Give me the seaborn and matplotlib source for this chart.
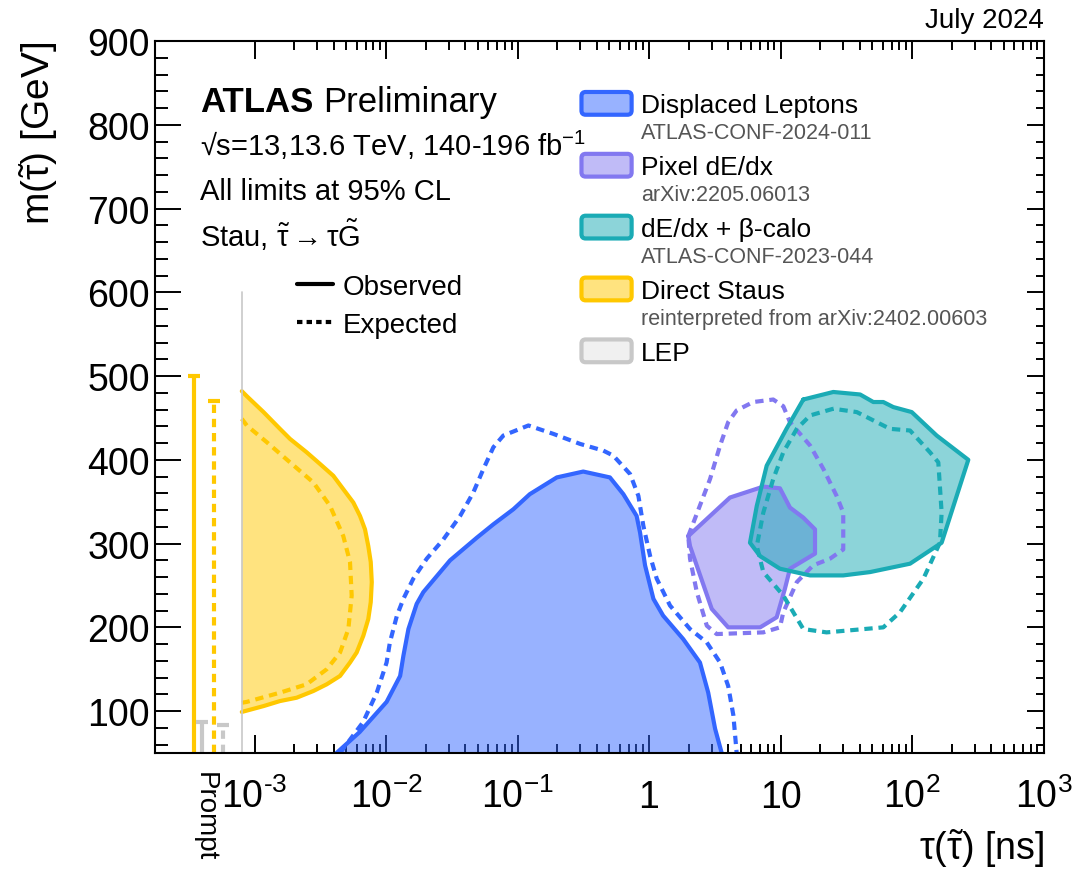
import seaborn as sns
import matplotlib.pyplot as plt
import numpy as np
from matplotlib.ticker import FixedLocator, FixedFormatter, MultipleLocator, NullFormatter
from matplotlib.patches import Patch, FancyBboxPatch
from matplotlib.legend_handler import HandlerPatch
from matplotlib.lines import Line2D
from matplotlib.colors import to_rgba

sns.set_theme(style='ticks', rc={'axes.edgecolor': 'black', 'text.color': 'black',
                                 'axes.labelcolor': 'black', 'xtick.color': 'black',
                                 'ytick.color': 'black'})
plt.rcParams['font.family'] = ['Liberation Sans', 'DejaVu Sans']
plt.rcParams['mathtext.fontset'] = 'custom'
plt.rcParams['mathtext.rm'] = 'Liberation Sans'
plt.rcParams['mathtext.it'] = 'Liberation Sans:italic'
plt.rcParams['mathtext.bf'] = 'Liberation Sans:bold'

# ---- data (lifetime in ns, stau mass in GeV) ----
# Displaced leptons
dl_obs_tau = [4.2e-3, 6.3e-3, 0.0101, 0.0128, 0.01355, 0.0148, 0.0171, 0.0192, 0.0307, 0.049,
              0.0655, 0.093, 0.124, 0.199, 0.316, 0.504, 0.638, 0.805, 0.855, 0.933,
              1.08, 1.28, 1.82, 2.44, 2.82, 3.18, 3.57]
dl_obs_m = [50, 75, 111, 142, 166, 198, 228, 242, 280, 307,
            323, 341, 359, 379, 386, 379, 359, 333, 313, 274,
            234, 214, 186, 158, 122, 79, 50]
dl_exp_tau = [4.47e-3, 6.7e-3, 8.5e-3, 0.0101, 0.0107, 0.0121, 0.01355, 0.0161, 0.0204, 0.0273,
              0.0366, 0.0461, 0.055, 0.0655, 0.078, 0.121, 0.187, 0.299, 0.449, 0.535,
              0.718, 0.83, 0.906, 1.02, 1.145, 1.445, 2.05, 2.75, 3.47, 4.0,
              4.38, 4.64]
dl_exp_m = [50, 87, 122, 158, 182, 214, 234, 258, 282, 305,
            333, 361, 389, 415, 429, 441, 431, 419, 411, 405,
            383, 357, 321, 285, 258, 226, 198, 182, 158, 130,
            95, 50]

# Pixel dE/dx
px_obs_tau = [1.99, 4.13, 7.4, 9.9, 11.8, 14.9, 18.3, 18.3, 11.8, 10.8, 9.35, 7.0, 4.0, 3.0, 2.05]
px_obs_m = [309, 355, 368, 366, 343, 331, 317, 288, 270, 246, 212, 200, 200, 222, 297]
px_exp_tau = [1.99, 2.91, 3.47, 4.0, 4.64, 6.2, 8.8, 10.5, 11.8, 16.8, 21.2, 26.7,
              30, 30, 23.8, 17.7, 13.3, 10.5, 9.9, 7.4, 3.27, 2.75, 2.31, 2.05]
px_exp_m = [309, 377, 417, 445, 459, 469, 472, 464, 445, 417, 389, 357,
            337, 293, 282, 274, 254, 218, 200, 194, 192, 202, 242, 282]

# dE/dx + beta-calo
bc_obs_tau = [14.9, 25.2, 40.3, 50.8, 60.5, 72, 99.5, 154, 268, 168,
              96.6, 48, 30, 16.8, 9.9, 7.0, 5.86, 6.6, 7.85, 11.1]
bc_obs_m = [472, 481, 478, 469, 469, 463, 457, 429, 400, 301,
            276, 266, 262, 262, 270, 285, 301, 345, 393, 437]
bc_exp_tau = [25.2, 16.8, 13.3, 10.5, 8.8, 7.4, 6.6, 7.4, 10.5, 14.9, 22.4,
              60.5, 81, 122, 163, 168, 158.5, 137, 96.6, 68, 48, 38]
bc_exp_m = [461, 453, 437, 409, 377, 337, 297, 266, 238, 198, 194,
            200, 218, 258, 301, 337, 397, 409, 435, 437, 449, 457]

# Direct staus (reinterpreted)
ds_obs_tau = [8.0e-4, 8.73e-4, 1.17e-3, 1.56e-3, 1.86e-3, 2.49e-3, 3.15e-3, 3.97e-3, 4.73e-3,
              5.64e-3, 6.34e-3, 6.92e-3, 7.33e-3, 7.65e-3, 7.79e-3, 7.65e-3, 7.33e-3, 6.72e-3,
              5.98e-3, 5.32e-3, 4.47e-3, 3.54e-3, 2.80e-3, 2.09e-3, 1.56e-3, 1.17e-3, 8.0e-4]
ds_obs_m = [482, 476, 457, 437, 425, 409, 395, 381, 365,
            349, 333, 317, 297, 278, 254, 230, 210, 190,
            170, 158, 142, 132, 124, 116, 112, 106, 99]
ds_exp_tau = [8.0e-4, 8.73e-4, 1.24e-3, 1.86e-3, 2.80e-3, 3.75e-3, 4.73e-3, 5.32e-3,
              5.48e-3, 5.17e-3, 4.47e-3, 3.54e-3, 2.49e-3, 1.56e-3, 8.73e-4, 8.0e-4]
ds_exp_m = [449, 441, 421, 397, 373, 345, 309, 278, 238, 198, 170, 150, 132, 122, 111, 110]

# prompt limits: direct staus obs/exp, LEP obs/exp
prompt_tau = [3.47e-4, 4.94e-4, 3.97e-4, 5.73e-4]
prompt_limit = [500, 470, 87, 84]
prompt_edge_tau = 8.0e-4
prompt_edge_top = 600

analyses = ['Displaced Leptons', 'Pixel dE/dx', 'dE/dx + β-calo', 'Direct Staus', 'LEP']
references = ['ATLAS-CONF-2024-011', 'arXiv:2205.06013', 'ATLAS-CONF-2023-044',
              'reinterpreted from arXiv:2402.00603']

x_major = [1e-3, 1e-2, 1e-1, 1, 10, 1e2, 1e3]
x_major_labels = ['$10^{\u20103}$', '$10^{-2}$', '$10^{-1}$', '1', '10', '$10^{2}$', '$10^{3}$']

# ---- colours ----
blue = '#3366ff'
purple = '#8278f0'
teal = '#1aabb5'
yellow = '#ffc800'
lep_edge = '#c8c8c8'
lep_fill = '#f0f0f0'
dots = (0, (2, 1.4))

fig = plt.figure(figsize=(10.76, 8.7), dpi=100)
ax = fig.add_axes([155 / 1076, 116 / 870, 888.5 / 1076, 712 / 870])
ax.set_xscale('log')
ax.set_xlim(10 ** -3.757, 1e3)
ax.set_ylim(50, 900)


def contour(tau, m, color, ls='-', closed=False):
    if closed:
        tau = list(tau) + [tau[0]]
        m = list(m) + [m[0]]
    sns.lineplot(x=tau, y=m, sort=False, estimator=None, color=color, lw=3,
                 linestyle=ls, ax=ax, legend=False)


# displaced leptons
ax.fill(dl_obs_tau, dl_obs_m, color=blue, alpha=0.5, lw=0)
contour(dl_obs_tau, dl_obs_m, blue)
contour(dl_exp_tau, dl_exp_m, blue, dots)

# direct staus
ax.fill(ds_obs_tau, ds_obs_m, color=yellow, alpha=0.5, lw=0)
contour(ds_obs_tau, ds_obs_m, yellow)
contour(ds_exp_tau, ds_exp_m, yellow, dots)

# pixel dE/dx
ax.fill(px_obs_tau, px_obs_m, color=purple, alpha=0.5, lw=0)
contour(px_obs_tau, px_obs_m, purple, closed=True)
contour(px_exp_tau, px_exp_m, purple, dots, closed=True)

# dE/dx + beta-calo
ax.fill(bc_obs_tau, bc_obs_m, color=teal, alpha=0.5, lw=0)
contour(bc_obs_tau, bc_obs_m, teal, closed=True)
contour(bc_exp_tau, bc_exp_m, teal, dots, closed=True)

# prompt region
prompt_colors = [yellow, yellow, lep_edge, lep_edge]
prompt_styles = ['-', dots, '-', dots]
ymin = ax.get_ylim()[0]
for t, lim, c, ls in zip(prompt_tau, prompt_limit, prompt_colors, prompt_styles):
    ax.plot([t, t], [ymin, lim], color=c, lw=3, linestyle=ls, solid_capstyle='butt')
    ax.plot([t], [lim], marker='_', ms=8, mew=3, color=c)
ax.plot([prompt_edge_tau, prompt_edge_tau], [ymin, prompt_edge_top], color=lep_edge, lw=1.2)

# ---- axes styling ----
for s in ax.spines.values():
    s.set_linewidth(1.5)
    s.set_color('black')

ax.xaxis.set_major_locator(FixedLocator(x_major))
ax.xaxis.set_major_formatter(FixedFormatter(x_major_labels))
ax.xaxis.set_minor_locator(FixedLocator([k * 10.0 ** n for n in range(-3, 3) for k in range(2, 10)]))
ax.xaxis.set_minor_formatter(NullFormatter())
ax.yaxis.set_major_locator(MultipleLocator(100))
ax.yaxis.set_minor_locator(MultipleLocator(20))

ax.tick_params(which='both', direction='in', top=True, right=True, width=1.4, colors='black')
ax.tick_params(axis='x', which='major', length=13, pad=39, labelsize=27)
ax.tick_params(axis='x', which='minor', length=6.5)
ax.tick_params(axis='y', which='major', length=18.7, pad=3.6, labelsize=27)
ax.tick_params(axis='y', which='minor', length=9.4)
for lab in ax.get_xticklabels():
    lab.set_va('baseline')
for t in ax.yaxis.get_major_ticks():
    t.tick2line.set_markersize(12)
for t in ax.yaxis.get_minor_ticks():
    t.tick2line.set_markersize(6)

ax.set_xlabel(r'$\mathrm{\tau}$($\mathrm{\tilde{\tau}}$) [ns]', fontsize=27, loc='right')
ax.xaxis.set_label_coords(1.0, -0.1489)
ax.xaxis.label.set_va('baseline')
ax.set_ylabel(r'm($\mathrm{\tilde{\tau}}$) [GeV]', fontsize=28, loc='top')
ax.yaxis.set_label_coords(-0.107, 1.0)

# ---- text ----
atlas = ax.text(0.0506, 0.9157, 'ATLAS', transform=ax.transAxes, fontsize=25,
                fontweight='bold', va='center', ha='left')
ax.annotate('Preliminary', xy=(1, 0), xycoords=atlas, xytext=(7, 0),
            textcoords='offset points', fontsize=25, va='bottom', ha='left')
ax.text(0.0506, 0.8553, '√s=13,13.6 TeV, 140-196 fb$^{-1}$', transform=ax.transAxes,
        fontsize=21, va='center')
ax.text(0.0506, 0.7893, 'All limits at 95% CL', transform=ax.transAxes, fontsize=21, va='center')
ax.text(0.0506, 0.7289, r'Stau, $\mathrm{\tilde{\tau}}\rightarrow\mathrm{\tau\tilde{G}}$',
        transform=ax.transAxes, fontsize=21, va='center')
ax.text(1.0, 1.0197, 'July 2024', transform=ax.transAxes, fontsize=20, ha='right', va='baseline')
ax.text(0.0563, -0.0253, 'Prompt', transform=ax.transAxes, fontsize=20, rotation=-90,
        ha='center', va='top')


# ---- legends ----
def round_box(legend, orig_handle, xdescent, ydescent, width, height, fontsize):
    return FancyBboxPatch((-xdescent, -ydescent), width, height,
                          boxstyle='round,pad=0,rounding_size=3')


edges = [blue, purple, teal, yellow, lep_edge]
fills = [to_rgba(blue, 0.5), to_rgba(purple, 0.5), to_rgba(teal, 0.5), to_rgba(yellow, 0.5), lep_fill]
handles = [Patch(facecolor=f, edgecolor=e, linewidth=3) for f, e in zip(fills, edges)]

leg = ax.legend(handles, analyses, loc='upper left', bbox_to_anchor=(0.480, 0.9284),
                frameon=False, fontsize=19, handlelength=1.9, handleheight=0.95,
                handletextpad=0.36, labelspacing=1.38, borderpad=0, borderaxespad=0,
                handler_map={Patch: HandlerPatch(patch_func=round_box)})
ax.add_artist(leg)
for txt, ref in zip(leg.get_texts(), references):
    ax.annotate(ref, xy=(0, 0), xycoords=txt, xytext=(0, -3.5), textcoords='offset points',
                va='top', ha='left', fontsize=15.5, color='#555555', zorder=6)

style_handles = [Line2D([], [], color='black', lw=3),
                 Line2D([], [], color='black', lw=3, linestyle=(0, (1.3, 1)))]
ax.legend(style_handles, ['Observed', 'Expected'], loc='upper left',
          bbox_to_anchor=(0.1598, 0.6728), frameon=False, fontsize=20,
          handlelength=1.3, handletextpad=0.36, labelspacing=0.43,
          borderpad=0, borderaxespad=0)

fig.savefig('out.png', dpi=100)
